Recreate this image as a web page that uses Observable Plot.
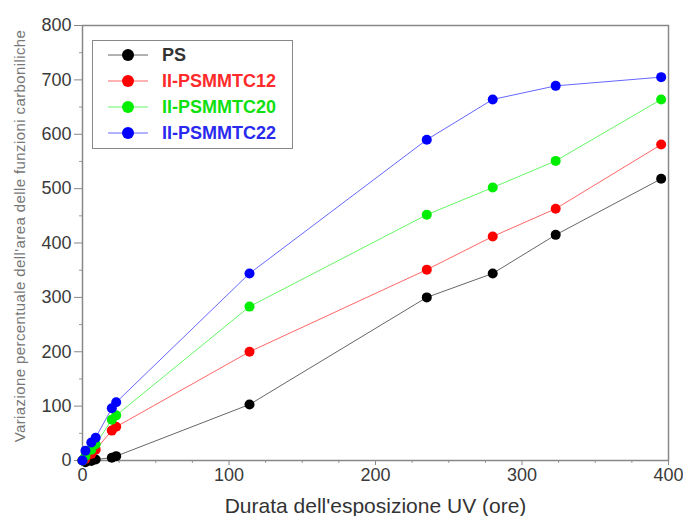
<!DOCTYPE html>
<html><head><meta charset="utf-8">
<script src="https://cdn.jsdelivr.net/npm/d3@7"></script>
<script src="https://cdn.jsdelivr.net/npm/@observablehq/plot@0.6"></script>
<style>
body{margin:0;background:#fff;font-family:"Liberation Sans",Arial,sans-serif;}
#wrap{position:relative;width:683px;height:516px;overflow:hidden;}
#legend{position:absolute;left:92px;top:40px;width:201px;height:109px;border:1.5px solid #888;background:#fff;box-sizing:border-box;}
.row{position:absolute;left:0;height:20px;}
.row span{position:absolute;left:69px;top:0;font-size:18px;font-weight:bold;white-space:nowrap;line-height:20px;}
.row svg{position:absolute;left:14px;top:0;}
</style></head><body><div id="wrap"></div>
<script>
const hours = [0, 2, 6, 9, 20, 23, 114, 235, 280, 323, 395];
const seriesNames = ["PS", "II-PSMMTC12", "II-PSMMTC20", "II-PSMMTC22"];
const seriesColors = ["#000000", "#ff0000", "#00ee00", "#0000ff"];
const textColors = ["#333333", "#ff2a2a", "#10e010", "#2a2aee"];
const psValues     = [0, -3, -1, 2, 5, 8, 103, 300, 344, 415, 518];
const ps12Values   = [0, 3, 12, 20, 55, 62, 200, 351, 412, 463, 581];
const ps20Values   = [0, 8, 20, 30, 75, 83, 283, 452, 502, 551, 664];
const ps22Values   = [0, 18, 33, 42, 96, 107, 344, 590, 664, 689, 705];
const xTicks = [0, 100, 200, 300, 400];
const yTicks = [0, 100, 200, 300, 400, 500, 600, 700, 800];
const xLabel = "Durata dell'esposizione UV (ore)";
const yLabel = "Variazione percentuale dell'area delle funzioni carboniliche";

const allValues = [psValues, ps12Values, ps20Values, ps22Values];
const data = [];
seriesNames.forEach((s, i) => hours.forEach((h, j) => data.push({series: s, hours: h, value: allValues[i][j]})));

const chart = Plot.plot({
  width: 683, height: 516,
  marginLeft: 82, marginRight: 15, marginTop: 25, marginBottom: 56,
  style: {fontFamily: "Liberation Sans, Arial, sans-serif", background: "#fff"},
  x: {domain: [0, 400]},
  y: {domain: [0, 800]},
  color: {domain: seriesNames, range: seriesColors},
  marks: [
    Plot.axisX({ticks: xTicks, tickSize: 5, tickPadding: 3, fontSize: 18, stroke: "#888", color: "#3a3a3a", label: null}),
    Plot.axisX({ticks: d3.range(25, 400, 25).filter(d => d % 100), tickSize: 3, text: null, stroke: "#999", label: null}),
    Plot.axisY({ticks: yTicks, tickSize: 8, tickPadding: 3, fontSize: 18, stroke: "#888", color: "#3a3a3a", label: null}),
    Plot.axisY({ticks: d3.range(50, 800, 100), tickSize: 3, text: null, stroke: "#999", label: null}),
    Plot.frame({stroke: "#888", strokeWidth: 1.5}),
    Plot.line(data, {x: "hours", y: "value", z: "series", stroke: "series", strokeWidth: 1, strokeOpacity: 0.6}),
    Plot.dot(data, {x: "hours", y: "value", fill: "series", r: 5}),
    Plot.text([xLabel], {frameAnchor: "bottom", dy: 52, fontSize: 21, fill: "#333"}),
    Plot.text([yLabel], {frameAnchor: "left", textAnchor: "middle", lineAnchor: "middle", rotate: -90, dx: -62, dy: -7, fontSize: 15, fill: "#777"})
  ]
});
const wrap = document.getElementById("wrap");
wrap.appendChild(chart);
d3.select(chart).selectAll("text").filter(function(){return this.textContent === yLabel;}).style("letter-spacing", "0.4px");

const legend = document.createElement("div");
legend.id = "legend";
seriesNames.forEach((s, i) => {
  const row = document.createElement("div");
  row.className = "row";
  row.style.top = (4 + i * 26) + "px";
  row.style.width = "100%";
  row.innerHTML = `<svg width="42" height="20"><line x1="1" y1="10" x2="41" y2="10" stroke="${seriesColors[i]}" stroke-opacity="0.6" stroke-width="1"/><circle cx="21" cy="10" r="6" fill="${seriesColors[i]}"/></svg><span style="color:${textColors[i]}">${s}</span>`;
  legend.appendChild(row);
});
wrap.appendChild(legend);
</script>
</body></html>
